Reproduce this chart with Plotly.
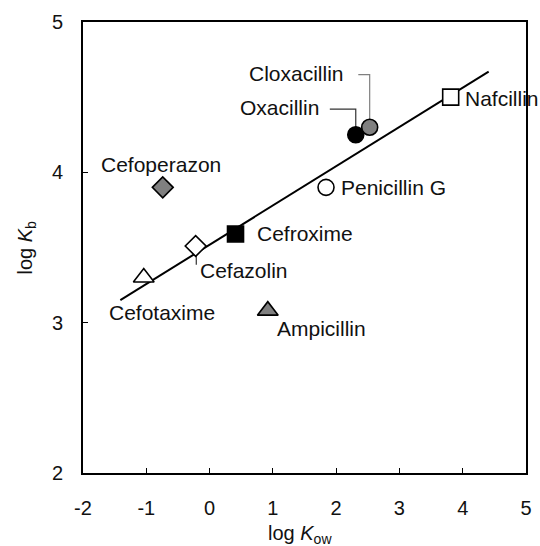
import plotly.graph_objects as go

# Data
drugs = ["Cefoperazon", "Cefroxime", "Cefazolin", "Cefotaxime", "Ampicillin",
         "Oxacillin", "Cloxacillin", "Nafcillin", "Penicillin G"]
log_kow = [-0.74, 0.41, -0.22, -1.04, 0.92, 2.31, 2.53, 3.81, 1.84]
log_kb = [3.90, 3.59, 3.51, 3.30, 3.08, 4.25, 4.30, 4.50, 3.90]

# Marker styles
symbols = ["diamond", "square", "diamond", "triangle-up", "triangle-up",
           "circle", "circle", "square", "circle"]
fills = ["#808080", "#000000", "#ffffff", "#ffffff", "#808080",
         "#000000", "#808080", "#ffffff", "#ffffff"]
symbol_size = {"diamond": 16, "square": 16, "triangle-up": 18, "circle": 16}

# Regression line end points
fit_x = [-1.41, 4.41]
fit_y = [3.15, 4.67]

# Label positions (x, y, anchor)
label_x = [-0.77, 0.72, -0.19, -0.75, 1.03, 1.10, 1.37, 4.01, 2.05]
label_y = [4.05, 3.59, 3.35, 3.07, 2.96, 4.43, 4.66, 4.49, 3.90]
label_anchor = ["center", "left", "left", "center", "left", "center", "center", "left", "left"]

# Leader lines
oxa_leader_x = [1.90, 2.31, 2.31]
oxa_leader_y = [4.42, 4.42, 4.25]
clox_leader_x = [2.35, 2.53, 2.53]
clox_leader_y = [4.65, 4.65, 4.30]
cefa_leader_x = [-0.21, -0.21]
cefa_leader_y = [3.51, 3.385]

# Axis ticks
x_ticks = [-2, -1, 0, 1, 2, 3, 4, 5]
x_ticktext = ["-2", "-1", "0", "1", "2", "3", "4", "5"]
y_ticks = [2, 3, 4, 5]
y_ticktext = ["2", "3", "4", "5"]

FONT = "Liberation Sans, Arial, sans-serif"
TXT = "#111111"

fig = go.Figure()
fig.add_trace(go.Scatter(x=fit_x, y=fit_y, mode="lines",
                         line=dict(color="black", width=2), showlegend=False, hoverinfo="skip"))
fig.add_trace(go.Scatter(x=oxa_leader_x, y=oxa_leader_y, mode="lines",
                         line=dict(color="#333333", width=1.2), showlegend=False, hoverinfo="skip"))
fig.add_trace(go.Scatter(x=clox_leader_x, y=clox_leader_y, mode="lines",
                         line=dict(color="#808080", width=1.2), showlegend=False, hoverinfo="skip"))
fig.add_trace(go.Scatter(x=cefa_leader_x, y=cefa_leader_y, mode="lines",
                         line=dict(color="#333333", width=1.2), showlegend=False, hoverinfo="skip"))
fig.add_trace(go.Scatter(x=log_kow, y=log_kb, mode="markers", text=drugs,
                         marker=dict(symbol=symbols, color=fills, opacity=1,
                                     size=[symbol_size[s] for s in symbols],
                                     line=dict(color="black", width=1.6)),
                         showlegend=False, hoverinfo="skip"))

for name, lx, ly, anc in zip(drugs, label_x, label_y, label_anchor):
    fig.add_annotation(x=lx, y=ly, text=name, showarrow=False, xanchor=anc, yanchor="middle",
                       font=dict(family=FONT, size=21, color=TXT))

fig.add_annotation(xref="paper", yref="paper", x=0.49, y=0, yanchor="top", yshift=-47,
                   text="log <i>K</i><sub>ow</sub>", showarrow=False,
                   font=dict(family=FONT, size=20, color=TXT))
fig.add_annotation(xref="paper", yref="paper", x=0, y=0.5, xanchor="center", xshift=-57,
                   text="log <i>K</i><sub>b</sub>", textangle=-90, showarrow=False,
                   font=dict(family=FONT, size=20, color=TXT))

axis_common = dict(showgrid=False, zeroline=False, showline=True, linecolor="black", linewidth=2,
                   mirror=True, ticks="inside", ticklen=5, tickwidth=1, tickcolor="black",
                   tickfont=dict(family=FONT, size=20, color=TXT), fixedrange=True)
fig.update_xaxes(range=[-2, 5], tickvals=x_ticks, ticktext=x_ticktext, ticklabelstandoff=16, **axis_common)
fig.update_yaxes(range=[2, 5], tickvals=y_ticks, ticktext=y_ticktext, ticklabelstandoff=14, **axis_common)

fig.update_layout(width=540, height=546, autosize=False,
                  margin=dict(l=83, r=8, t=22, b=73),
                  plot_bgcolor="white", paper_bgcolor="white",
                  hovermode=False, dragmode=False,
                  font=dict(family=FONT))
fig.write_html("out.html", config={"displayModeBar": False, "staticPlot": True},
               post_script="document.body.style.margin='0';document.body.style.overflow='hidden';")
